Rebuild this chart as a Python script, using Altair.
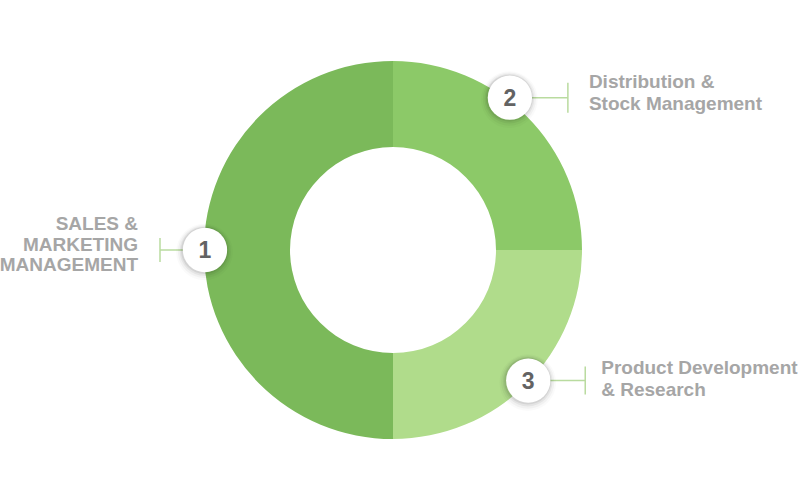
import math
import altair as alt
import pandas as pd

# ---------------- data ----------------
segments = ["Distribution & Stock Management", "Product Development & Research", "Sales & Marketing Management"]
badge_numbers = ["2", "3", "1"]
shares = [25, 25, 50]
label_texts = ["Distribution &\nStock Management", "Product Development\n& Research", "SALES &\nMARKETING\nMANAGEMENT"]

# ---------------- style / layout ----------------
seg_colors = ["#8cc968", "#b0dc8b", "#7bb95a"]
W, H = 800, 496
CX, CY = 393, 250
R_OUT, R_IN = 189, 103
badge_angle_nudge = [-7.5, -1.0, 0.0]
badge_dist = [192, 188, 188]
tick_dx = [58, 57, -45]
tick_half = [15, 14, 12]
text_dx = [79, 73, -67]
text_dy = [-15.5, -12.5, -26]
line_heights = [22, 21.7, 20.5]
text_align = ["left", "left", "right"]
FONT = "Liberation Sans"

total = sum(shares)
rows_badge, rows_tick, rows_text = [], [], []
cum = 0
for i, s in enumerate(shares):
    mid = (cum + s / 2) / total * 360 + badge_angle_nudge[i]
    cum += s
    a = math.radians(mid)
    bx = CX + badge_dist[i] * math.sin(a)
    by = CY - badge_dist[i] * math.cos(a)
    rows_badge.append({"num": badge_numbers[i], "x": bx, "y": by})
    tx = bx + tick_dx[i]
    rows_tick.append({"id": f"h{i}", "x": bx, "y": by, "x2": tx, "y2": by})
    rows_tick.append({"id": f"v{i}", "x": tx, "y": by - tick_half[i], "x2": tx, "y2": by + tick_half[i]})
    rows_text.append({"key": i, "label": label_texts[i], "x": bx + text_dx[i], "y": by + text_dy[i]})

arc_df = pd.DataFrame({"segment": segments, "share": shares, "idx": list(range(len(segments)))})
badge_df = pd.DataFrame(rows_badge)
tick_df = pd.DataFrame(rows_tick)
text_df = pd.DataFrame(rows_text)

xs = alt.Scale(domain=[0, W], nice=False, zero=False)
ys = alt.Scale(domain=[0, H], nice=False, zero=False, reverse=True)

donut = alt.Chart(arc_df).mark_arc(outerRadius=R_OUT, innerRadius=R_IN).encode(
    theta=alt.Theta("share:Q", stack=True),
    order=alt.Order("idx:Q"),
    color=alt.Color("segment:N", scale=alt.Scale(domain=segments, range=seg_colors), legend=None),
    x=alt.value(CX),
    y=alt.value(CY),
)

ticks = alt.Chart(tick_df).mark_rule(color="#b9db9f", strokeWidth=1.5).encode(
    x=alt.X("x:Q", scale=xs, axis=None),
    y=alt.Y("y:Q", scale=ys, axis=None),
    x2="x2:Q",
    y2="y2:Q",
)

shadows = []
for r, op, dy in [(32, 0.02, 2), (30, 0.035, 1.5), (28, 0.05, 1), (26.5, 0.07, 0.5)]:
    shadows.append(
        alt.Chart(badge_df).mark_circle(color="#000000", opacity=op, size=math.pi * r * r, yOffset=dy, xOffset=-0.5).encode(
            x=alt.X("x:Q", scale=xs, axis=None),
            y=alt.Y("y:Q", scale=ys, axis=None),
        )
    )

badges = alt.Chart(badge_df).mark_circle(color="#ffffff", opacity=1, size=math.pi * 25 * 25).encode(
    x=alt.X("x:Q", scale=xs, axis=None),
    y=alt.Y("y:Q", scale=ys, axis=None),
)

nums = alt.Chart(badge_df).mark_text(font=FONT, fontWeight="bold", fontSize=23, color="#636363", baseline="middle", align="center", dy=1).encode(
    x=alt.X("x:Q", scale=xs, axis=None),
    y=alt.Y("y:Q", scale=ys, axis=None),
    text="num:N",
)

def label_layer(i):
    return alt.Chart(text_df).transform_filter(alt.datum.key == i).mark_text(
        font=FONT, fontWeight="bold", fontSize=19, color="#a6a6a6", align=text_align[i],
        baseline="middle", lineBreak="\n", lineHeight=line_heights[i],
    ).encode(
        x=alt.X("x:Q", scale=xs, axis=None),
        y=alt.Y("y:Q", scale=ys, axis=None),
        text="label:N",
    )

chart = alt.layer(donut, ticks, *shadows, badges, nums, *[label_layer(i) for i in range(len(shares))]).properties(
    width=W, height=H, autosize=alt.AutoSizeParams(type="none"), padding=0,
    background="#ffffff",
).configure_view(strokeWidth=0)

chart.save("out.html", embed_options={"renderer": "svg", "actions": False})
